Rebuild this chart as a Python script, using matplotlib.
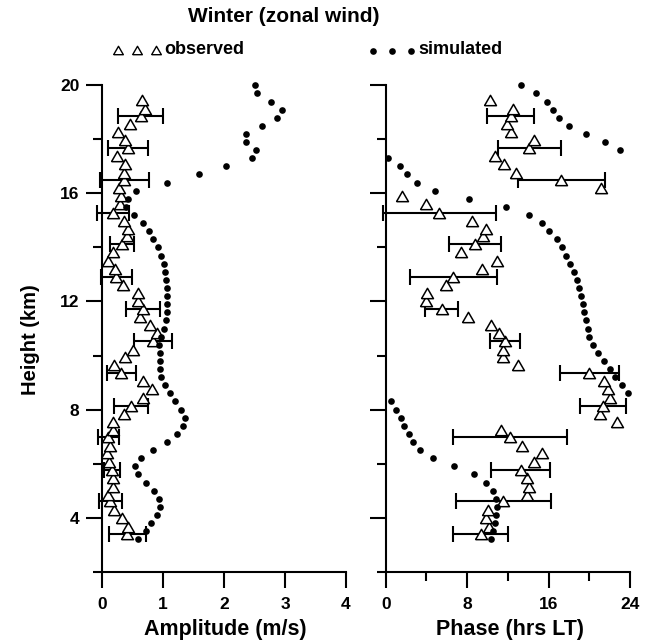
import numpy as np
import matplotlib
matplotlib.use('Agg')
import matplotlib.pyplot as plt
from matplotlib.lines import Line2D
from matplotlib.ticker import MultipleLocator

plt.rcParams['font.family'] = ['Liberation Sans', 'DejaVu Sans']
plt.rcParams['font.weight'] = 'bold'

# ---------------- data ----------------
sim_height = [3.2, 3.5, 3.8, 4.1, 4.4, 4.7, 5.0, 5.3, 5.6, 5.9,
              6.2, 6.5, 6.8, 7.1, 7.4, 7.7, 8.0, 8.3, 8.6, 8.9,
              9.2, 9.5, 9.8, 10.1, 10.4, 10.7, 11.0, 11.3, 11.6, 11.9,
              12.2, 12.5, 12.8, 13.1, 13.4, 13.7, 14.0, 14.3, 14.6, 14.9,
              15.2, 15.5, 15.8, 16.1, 16.4, 16.7, 17.0, 17.3, 17.6, 17.9,
              18.2, 18.5, 18.8, 19.1, 19.4, 19.7, 20.0]
sim_amp = [0.59, 0.71, 0.80, 0.89, 0.94, 0.93, 0.85, 0.71, 0.58, 0.53,
           0.63, 0.83, 1.07, 1.22, 1.33, 1.36, 1.29, 1.20, 1.11, 1.03,
           0.96, 0.94, 0.94, 0.94, 0.93, 0.96, 1.01, 1.04, 1.06, 1.07,
           1.06, 1.06, 1.05, 1.03, 1.01, 0.97, 0.91, 0.83, 0.76, 0.67,
           0.52, 0.39, 0.42, 0.55, 1.07, 1.59, 2.03, 2.45, 2.52, 2.36,
           2.36, 2.62, 2.86, 2.95, 2.77, 2.54, 2.50]
sim_phase = [10.32, 10.58, 10.75, 10.85, 10.91, 10.82, 10.52, 9.86, 8.71, 6.72,
             4.65, 3.40, 2.71, 2.26, 1.83, 1.47, 1.01, 0.49, 23.85, 23.20,
             22.55, 22.06, 21.46, 20.88, 20.38, 20.02, 19.86, 19.70, 19.53, 19.40,
             19.23, 19.01, 18.78, 18.45, 18.12, 17.73, 17.34, 16.81, 16.09, 15.34,
             14.12, 11.83, 8.22, 4.82, 3.05, 2.12, 1.41, 0.26, 23.04, 21.59,
             19.70, 17.99, 17.01, 16.42, 15.83, 14.78, 13.30]

obs_height = [3.38, 3.67, 3.98, 4.29, 4.60, 4.84, 5.15, 5.46, 5.76, 6.05,
              6.39, 6.67, 6.98, 7.25, 7.53, 7.84, 8.15, 8.44, 8.76, 9.06,
              9.35, 9.64, 9.93, 10.21, 10.52, 10.83, 11.12, 11.42, 11.72, 12.00,
              12.33, 12.61, 12.92, 13.21, 13.51, 13.82, 14.13, 14.41, 14.69, 14.99,
              15.29, 15.61, 15.89, 16.19, 16.51, 16.76, 17.07, 17.37, 17.68, 17.99,
              18.27, 18.57, 18.87, 19.13, 19.44]
obs_amp = [0.41, 0.43, 0.33, 0.20, 0.13, 0.10, 0.18, 0.18, 0.16, 0.11,
           0.08, 0.12, 0.10, 0.17, 0.17, 0.36, 0.47, 0.66, 0.82, 0.66,
           0.31, 0.20, 0.38, 0.50, 0.83, 0.89, 0.78, 0.62, 0.67, 0.58,
           0.58, 0.34, 0.23, 0.21, 0.10, 0.17, 0.32, 0.40, 0.43, 0.36,
           0.18, 0.29, 0.30, 0.27, 0.36, 0.35, 0.37, 0.24, 0.42, 0.37,
           0.25, 0.45, 0.63, 0.70, 0.65]
obs_phase = [9.34, 10.19, 9.86, 10.09, 11.56, 13.92, 14.12, 13.92, 13.27, 14.58,
             15.34, 13.43, 12.22, 11.34, 22.71, 21.07, 21.34, 22.06, 21.79, 21.47,
             19.99, 13.04, 11.50, 11.56, 11.73, 11.17, 10.35, 8.06, 5.51, 3.96,
             4.03, 5.93, 6.65, 9.50, 10.97, 7.43, 8.78, 9.54, 9.83, 8.52,
             5.27, 3.96, 1.60, 21.17, 17.24, 12.78, 11.63, 10.75, 14.12, 14.58,
             12.29, 11.90, 12.29, 12.49, 10.26]

# error bars on every 4th observed level (half widths)
amp_err = [0.30, 0.19, 0.13, 0.17, 0.28, 0.24, 0.31, 0.28, 0.25, 0.20, 0.26, 0.40, 0.33, 0.37]
phase_err = [2.7, 4.67, 2.9, 5.57, 2.3, 2.9, 1.45, 1.62, 4.3, 2.56, 5.52, 4.26, 3.08, 2.3]

amp_ticks = [0, 1, 2, 3, 4]
phase_ticks = [0, 8, 16, 24]
height_ticks = [4, 8, 12, 16, 20]

# ---------------- figure ----------------
W, H = 646, 644
fig = plt.figure(figsize=(W / 100, H / 100), dpi=100)

def fx(px):
    return px / W

def fy(py):
    return 1 - py / H

ax_bottom = fy(571.7)
ax_height = fy(85.3) - ax_bottom
ax1 = fig.add_axes([fx(102.3), ax_bottom, fx(346) - fx(102.3), ax_height])
ax2 = fig.add_axes([fx(385.7), ax_bottom, fx(630) - fx(385.7), ax_height])

tri = [(-1, -0.866), (1, -0.866), (0, 0.866), (-1, -0.866)]
tri_ms = 8.6
dot_ms = 4.8

obs_h = np.array(obs_height)
err_h = obs_h[::4]

for ax, xs_sim, xs_obs, err, xlim in [
        (ax1, sim_amp, obs_amp, amp_err, (0, 4)),
        (ax2, sim_phase, obs_phase, phase_err, (0, 24))]:
    xo = np.array(xs_obs)
    ax.errorbar(xo[::4], err_h, xerr=err, fmt='none', ecolor='black',
                elinewidth=1.5, capsize=5.8, capthick=1.5, zorder=2, clip_on=False)
    ax.plot(xs_obs, obs_height, linestyle='none', marker=tri, ms=tri_ms,
            mfc='white', mec='black', mew=1.1, zorder=3, clip_on=False)
    ax.plot(xs_sim, sim_height, linestyle='none', marker='o', ms=dot_ms,
            mfc='black', mec='black', mew=0, zorder=4, clip_on=False)
    ax.set_xlim(*xlim)
    ax.set_ylim(2, 20)
    for s in ['top', 'right']:
        ax.spines[s].set_visible(False)
    for s in ['left', 'bottom']:
        ax.spines[s].set_linewidth(1.5)
    ax.yaxis.set_major_locator(plt.FixedLocator(height_ticks))
    ax.yaxis.set_minor_locator(MultipleLocator(2))
    ax.tick_params(axis='both', which='major', length=11.5, width=1.5,
                   direction='out', labelsize=12.5, pad=5)
    ax.tick_params(axis='both', which='minor', length=6.5, width=1.5,
                   direction='out')
    ax.tick_params(axis='x', which='major', pad=7)
    ax.set_facecolor('none')

ax1.xaxis.set_major_locator(plt.FixedLocator(amp_ticks))
ax2.xaxis.set_major_locator(plt.FixedLocator(phase_ticks))
ax2.xaxis.set_minor_locator(MultipleLocator(4))
ax2.tick_params(axis='y', which='both', labelleft=False)
for lab in ax1.get_xticklabels() + ax1.get_yticklabels() + ax2.get_xticklabels():
    lab.set_fontweight('bold')

# labels
fig.text(fx(284), fy(17), 'Winter (zonal wind)', ha='center', va='center',
         fontsize=15, fontweight='bold')
fig.text(fx(30), fy(340), 'Height (km)', ha='center', va='center',
         rotation=90, fontsize=14.5, fontweight='bold')
fig.text(fx(225), fy(630), 'Amplitude (m/s)', ha='center', va='center',
         fontsize=15.5, fontweight='bold')
fig.text(fx(510), fy(630), 'Phase (hrs LT)', ha='center', va='center',
         fontsize=15.5, fontweight='bold')

# legend
for x in [118, 137, 156]:
    fig.add_artist(Line2D([fx(x)], [fy(50)], transform=fig.transFigure,
                          marker=tri, ms=7, mfc='white', mec='black', mew=1.0,
                          linestyle='none'))
fig.text(fx(164), fy(50), 'observed', ha='left', va='center',
         fontsize=13, fontweight='bold')
for x in [373, 392, 411]:
    fig.add_artist(Line2D([fx(x)], [fy(51)], transform=fig.transFigure,
                          marker='o', ms=dot_ms, mfc='black', mec='black', mew=0,
                          linestyle='none'))
fig.text(fx(418), fy(50), 'simulated', ha='left', va='center',
         fontsize=13, fontweight='bold')

fig.savefig('out.png', dpi=100)
